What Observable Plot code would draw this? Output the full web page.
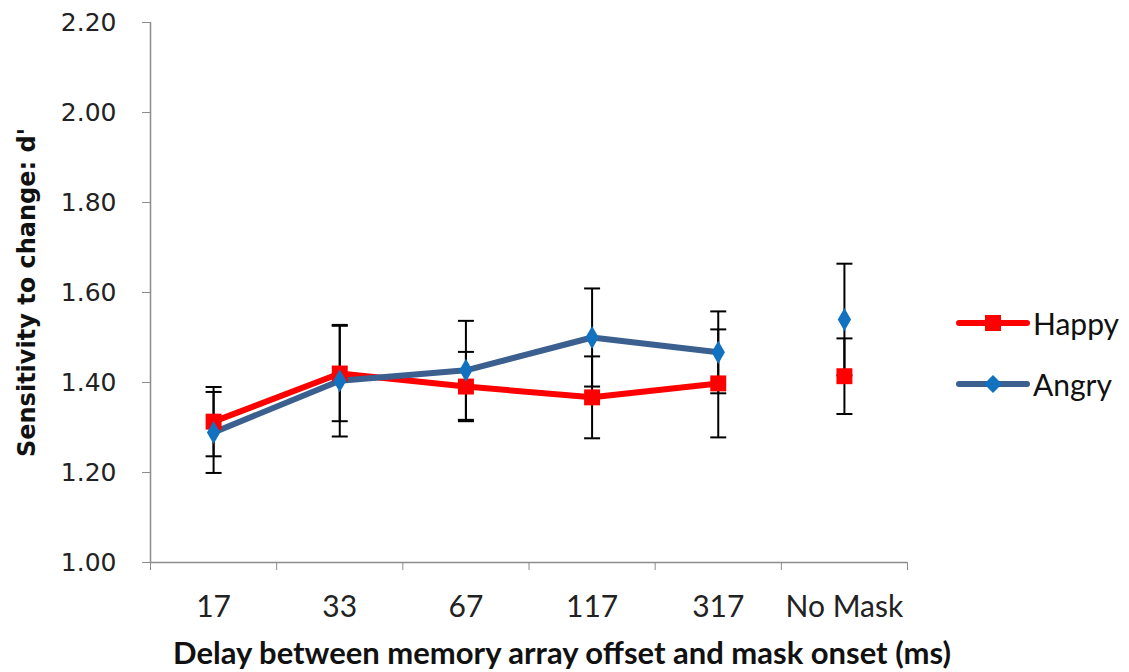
<!DOCTYPE html>
<html>
<head>
<meta charset="utf-8">
<script src="https://cdn.jsdelivr.net/npm/d3@7"></script>
<script src="https://cdn.jsdelivr.net/npm/@observablehq/plot@0.6"></script>
<style>
  html, body { margin: 0; padding: 0; background: #fff; }
  #wrap { position: relative; width: 1129px; height: 672px; }
  #legend { position: absolute; left: 955px; top: 300px; font-family: Lato, sans-serif; font-size: 30px; color: #111; }
  .item { display: flex; align-items: center; height: 46px; margin-bottom: 15px; }
  .item svg { display: block; margin-right: 2px; }
</style>
</head>
<body>
<div id="wrap">
  <div id="chart"></div>
  <div id="legend"></div>
</div>
<script>
const categories = ["17", "33", "67", "117", "317", "No Mask"];
const happy    = [1.313, 1.420, 1.391, 1.367, 1.398, 1.414];
const happyErr = [0.077, 0.106, 0.077, 0.091, 0.120, 0.084];
const angry    = [1.289, 1.404, 1.427, 1.500, 1.467, 1.540];
const angryErr = [0.090, 0.124, 0.110, 0.109, 0.091, 0.124];
const yTicks = [1.0, 1.2, 1.4, 1.6, 1.8, 2.0, 2.2];
const xLabel = "Delay between memory array offset and mask onset (ms)";
const yLabel = "Sensitivity to change: d'";

const red = "#FF0000";
const blueLine = "#3B5F8E";
const blueFill = "#1272BF";

const rows = [];
categories.forEach((c, i) => {
  rows.push({series: "Happy", i, cat: c, v: happy[i], e: happyErr[i], connected: c !== "No Mask"});
  rows.push({series: "Angry", i, cat: c, v: angry[i], e: angryErr[i], connected: c !== "No Mask"});
});
const H = rows.filter(d => d.series === "Happy");
const A = rows.filter(d => d.series === "Angry");

const cap = { draw(ctx, size) { const w = Math.sqrt(size / Math.PI); ctx.moveTo(-w, 0); ctx.lineTo(w, 0); } };

const boundaries = d3.range(categories.length + 1).map(k => k - 0.5);

const chart = Plot.plot({
  width: 1129,
  height: 672,
  marginLeft: 150,
  marginRight: 222,
  marginTop: 22,
  marginBottom: 110,
  x: {domain: [-0.5, categories.length - 0.5], axis: null},
  y: {domain: [1.0, 2.2], axis: null},
  marks: [
    Plot.ruleY([1.0], {stroke: "#8c8c8c", strokeWidth: 1.5}),
    Plot.ruleX([-0.5], {stroke: "#8c8c8c", strokeWidth: 1.5}),
    Plot.axisY({ticks: yTicks, tickSize: 8, tickPadding: 26, tickFormat: d => d.toFixed(2),
      stroke: "#8c8c8c", fill: "#222", fontFamily: "DejaVu Sans", fontSize: 25, label: null}),
    Plot.axisX({ticks: boundaries, tickSize: 8, tickFormat: () => "", stroke: "#8c8c8c", label: null}),
    Plot.axisX({ticks: d3.range(categories.length), tickSize: 0, tickPadding: 33,
      tickFormat: i => categories[i], fill: "#222", fontFamily: "Lato", fontSize: 30, label: null}),
    Plot.text([xLabel], {frameAnchor: "bottom", dx: 33, dy: 101, fontFamily: "Lato", fontWeight: "bold", fontSize: 31, fill: "#111"}),
    Plot.text([yLabel], {frameAnchor: "left", textAnchor: "middle", dx: -123, rotate: -90, fontFamily: "DejaVu Sans", fontWeight: "bold", fontSize: 24, fill: "#111"}),
    // error bars
    Plot.ruleX(rows, {x: "i", y1: d => d.v - d.e, y2: d => d.v + d.e, stroke: "#000", strokeWidth: 2}),
    Plot.dot(rows, {x: "i", y: d => d.v - d.e, symbol: cap, r: 8, stroke: "#000", strokeWidth: 2}),
    Plot.dot(rows, {x: "i", y: d => d.v + d.e, symbol: cap, r: 8, stroke: "#000", strokeWidth: 2}),
    // lines
    Plot.line(H.filter(d => d.connected), {x: "i", y: "v", stroke: red, strokeWidth: 6}),
    Plot.line(A.filter(d => d.connected), {x: "i", y: "v", stroke: blueLine, strokeWidth: 6}),
    // markers
    Plot.dot(H, {x: "i", y: "v", symbol: "square", r: 9, fill: red}),
    Plot.dot(A, {x: "i", y: "v", symbol: "diamond", r: 7, fill: blueFill})
  ]
});
document.getElementById("chart").appendChild(chart);

const legendItems = [
  {label: "Happy", line: red, fill: red, shape: "square"},
  {label: "Angry", line: blueLine, fill: blueFill, shape: "diamond"}
];
const legend = document.getElementById("legend");
legendItems.forEach(it => {
  const div = document.createElement("div");
  div.className = "item";
  const marker = it.shape === "square"
    ? `<rect x="30" y="15" width="16" height="16" fill="${it.fill}"/>`
    : `<path d="M38 14 L47 23 L38 32 L29 23 Z" fill="${it.fill}"/>`;
  div.innerHTML = `<svg width="76" height="46"><line x1="4" y1="23" x2="72" y2="23" stroke="${it.line}" stroke-width="6" stroke-linecap="round"/>${marker}</svg><span>${it.label}</span>`;
  legend.appendChild(div);
});
</script>
</body>
</html>
